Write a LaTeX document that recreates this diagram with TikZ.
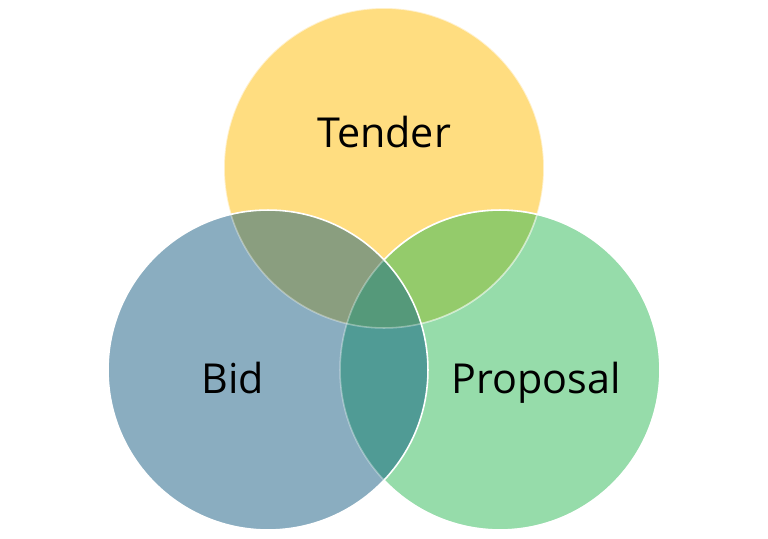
\documentclass[tikz,border=0pt]{standalone}
\usepackage{fontspec}
\setmainfont{Open Sans}
\usetikzlibrary{positioning}
\definecolor{tenderonly}{HTML}{FFDD80}
\definecolor{bidonly}{HTML}{8AADC0}
\definecolor{proposalonly}{HTML}{96DCAA}
\definecolor{tenderbid}{HTML}{8A9E7F}
\definecolor{tenderproposal}{HTML}{94CB6B}
\definecolor{bidproposal}{HTML}{509B95}
\definecolor{allthree}{HTML}{55997A}

\begin{document}
\begin{tikzpicture}[
			x=0.02cm, y=-0.02cm,
			set/.style={circle, minimum size=6.4cm, inner sep=0pt},
			rim/.style={draw=white, line width=0.9pt},
			faintrim/.style={draw=white, draw opacity=0.35, line width=0.9pt},
			setlabel/.style={font=\fontsize{23.5}{28}\selectfont, text=black, anchor=base, inner sep=0pt}
			]
			
			\useasboundingbox (0,0) rectangle (768,538);
			
			% tender at the back, then proposal, bid on top
			\node[set, fill=tenderonly] (tender) at (384,168) {};
			\node[set, fill=proposalonly] (proposal) at (500,370) {};
			\begin{scope}
				\clip (tender.center) circle[radius=3.2cm];
				\fill[tenderproposal] (proposal.center) circle[radius=3.2cm];
			\end{scope}
			\draw[faintrim] (tender.center) circle[radius=3.2cm];
			\draw[rim] (proposal.center) circle[radius=3.2cm];
			
			\node[set, fill=bidonly] (bid) at (268,370) {};
			\begin{scope}
				\clip (bid.center) circle[radius=3.2cm];
				\fill[tenderbid] (tender.center) circle[radius=3.2cm];
				\fill[bidproposal] (proposal.center) circle[radius=3.2cm];
				\clip (tender.center) circle[radius=3.2cm];
				\fill[allthree] (proposal.center) circle[radius=3.2cm];
			\end{scope}
			\draw[faintrim] (tender.center) circle[radius=3.2cm];
			\draw[faintrim] (proposal.center) circle[radius=3.2cm];
			\draw[rim] (bid.center) circle[radius=3.2cm];
			
			\node[setlabel] (tenderlabel) at (384,147) {Tender};
			\node[setlabel] (bidlabel) at (233,393) {Bid};
			\node[setlabel] (proposallabel) at (536,393) {Proposal};
		\end{tikzpicture}
\end{document}
